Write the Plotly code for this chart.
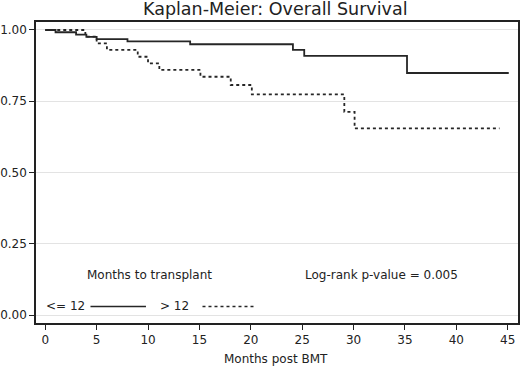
import plotly.graph_objects as go

# Group <= 12 months to transplant (solid)
le12_time = [0, 1.0, 3.0, 4.0, 5.0, 8.0, 14.1, 24.1, 25.2, 35.2, 45.1]
le12_surv = [1.0, 0.992, 0.984, 0.976, 0.968, 0.960, 0.950, 0.930, 0.909, 0.849, 0.849]

# Group > 12 months to transplant (dashed)
gt12_time = [0, 3.9, 5.0, 6.0, 9.0, 10.0, 11.1, 15.1, 18.05, 20.1, 29.1, 30.1, 44.2]
gt12_surv = [1.0, 0.977, 0.953, 0.930, 0.906, 0.883, 0.860, 0.836, 0.807, 0.774, 0.713, 0.655, 0.655]

x_ticks = [0, 5, 10, 15, 20, 25, 30, 35, 40, 45]
y_ticks = [0.0, 0.25, 0.5, 0.75, 1.0]

FONT = "DejaVu Sans, Verdana, sans-serif"
INK = "#222222"

fig = go.Figure()
fig.add_trace(go.Scatter(x=le12_time, y=le12_surv, mode="lines", line_shape="hv",
                         line=dict(color="#262626", width=1.8), name="<= 12"))
fig.add_trace(go.Scatter(x=gt12_time, y=gt12_surv, mode="lines", line_shape="hv",
                         line=dict(color="#262626", width=1.8, dash="3px,3px"), name="> 12"))

# legend sample lines (in-plot legend)
fig.add_trace(go.Scatter(x=[4.4, 9.8], y=[0.03, 0.03], mode="lines",
                         line=dict(color="#262626", width=1.6), showlegend=False, hoverinfo="skip"))
fig.add_trace(go.Scatter(x=[15.3, 20.3], y=[0.03, 0.03], mode="lines",
                         line=dict(color="#262626", width=1.6, dash="3px,3px"), showlegend=False, hoverinfo="skip"))

annots = [
    dict(x=10.1, y=0.141, text="Months to transplant"),
    dict(x=32.7, y=0.141, text="Log-rank p-value = 0.005"),
    dict(x=2.0, y=0.03, text="<= 12"),
    dict(x=12.6, y=0.03, text="> 12"),
]
for a in annots:
    fig.add_annotation(x=a["x"], y=a["y"], text=a["text"], showarrow=False,
                       xref="x", yref="y", xanchor="center", yanchor="middle",
                       font=dict(family=FONT, size=12, color=INK))

# title
fig.add_annotation(x=0.497, y=1.043, xref="paper", yref="paper", text="Kaplan-Meier: Overall Survival",
                   showarrow=False, xanchor="center", yanchor="middle",
                   font=dict(family=FONT, size=17.5, color=INK))
# x-axis title
fig.add_annotation(x=0.497, y=-0.12, xref="paper", yref="paper", text="Months post BMT",
                   showarrow=False, xanchor="center", yanchor="middle",
                   font=dict(family=FONT, size=12, color=INK))

fig.update_layout(
    width=520, height=367,
    margin=dict(l=36, r=2, t=22, b=44, autoexpand=False),
    paper_bgcolor="white", plot_bgcolor="white",
    showlegend=False,
    font=dict(family=FONT, size=12, color=INK),
)
fig.update_xaxes(range=[-0.9, 46.0], tickvals=x_ticks, ticks="outside", ticklen=5,
                 tickcolor=INK, showgrid=False, zeroline=False, automargin=False,
                 showline=True, linecolor=INK, linewidth=1.5, mirror=True,
                 tickfont=dict(family=FONT, size=12, color=INK))
fig.update_yaxes(range=[-0.028, 1.028], tickvals=y_ticks, tickformat=".2f",
                 ticks="outside", ticklen=5, tickcolor=INK, automargin=False,
                 showgrid=True, gridcolor="#e3e3e3", gridwidth=1, zeroline=False,
                 showline=True, linecolor=INK, linewidth=1.5, mirror=True,
                 tickfont=dict(family=FONT, size=12, color=INK))

fig.write_html("out.html", config={"displayModeBar": False},
               post_script="document.body.style.margin='0';document.body.style.overflow='hidden';")
